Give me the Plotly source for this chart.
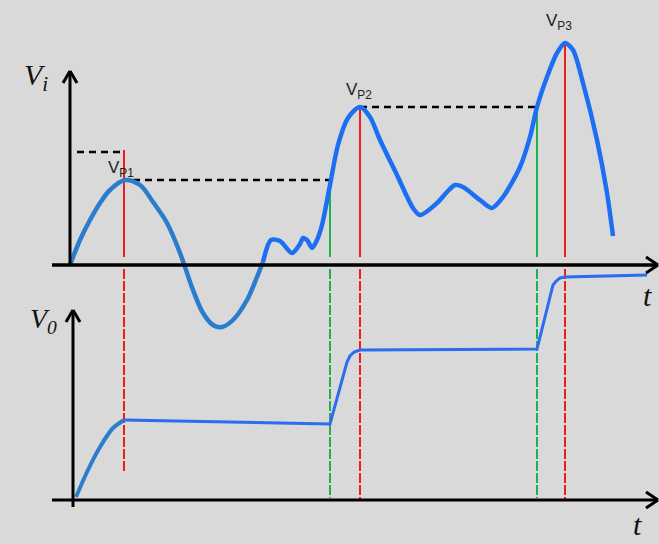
import plotly.graph_objects as go

# ---- data (t in time units, V in volts) ----
vi_t = [0.0, 1.0, 2.0, 3.0, 4.0, 5.5, 7.0, 8.3, 9.7, 11.0, 12.3, 13.3, 14.3, 15.2, 16.3, 17.7,
        18.7, 19.3, 20.1, 21.0, 22.2, 23.0, 23.3, 23.7, 24.2, 24.7, 25.2, 26.0, 26.8, 27.8, 29.0,
        30.0, 31.0, 32.7, 34.3, 35.0, 36.7, 37.7, 38.5, 39.3, 41.0, 42.2, 43.3, 45.0, 46.0, 46.7,
        47.7, 48.7, 49.5, 50.3, 51.3, 52.7, 53.7, 54.3]
vi_v = [0.0, 0.625, 1.125, 1.55, 1.875, 2.125, 2.0, 1.575, 1.05, 0.3, -0.625, -1.2, -1.5, -1.55,
        -1.375, -0.875, -0.3, 0.075, 0.625, 0.6, 0.3, 0.525, 0.675, 0.625, 0.425, 0.625, 1.0,
        2.0, 3.0, 3.675, 3.95, 3.7, 3.125, 2.25, 1.425, 1.25, 1.55, 1.825, 2.0, 1.95, 1.625,
        1.425, 1.7, 2.45, 3.2, 3.95, 4.7, 5.3, 5.55, 5.375, 4.55, 3.125, 1.8, 0.725]
vi_split = 17  # index where the trace colour changes

vo_t = [0.6, 1.7, 3.0, 4.3, 5.4, 26.0, 27.7, 28.0, 28.4, 29.0, 46.7, 48.3, 48.6, 49.0, 49.5, 57.7]
vo_v = [0.075, 0.7, 1.325, 1.8, 2.0, 1.9, 3.45, 3.6, 3.7, 3.75, 3.775, 5.375, 5.47, 5.55, 5.575, 5.625]
vo_split = 4

peak_names = ["V<sub>P1</sub>", "V<sub>P2</sub>", "V<sub>P3</sub>"]
peak_t = [5.4, 29.0, 49.5]
peak_top = [2.875, 3.95, 5.55]      # top of red marker (Vi units)
peak_end_vo = [0.675, 0.0, 0.0]     # lower end of red marker (Vo units)
charge_t = [26.0, 46.7]
charge_top = [1.9, 3.8]

hold_t0 = [0.7, 6.3, 29.0]
hold_t1 = [5.3, 26.0, 46.5]
hold_v = [2.825, 2.125, 3.95]

# axis ranges
XR = [-7.0, 58.9]
YR_VI = [-6.975, 6.625]
YR_VO = [-1.1, 12.5]


def vi_to_vo(v):
    return v - YR_VI[0] + YR_VO[0]


fig = go.Figure()

RED = "#f41a1a"
GREEN = "#1fb24a"

# hold (dashed black) lines
for a, b, v in zip(hold_t0, hold_t1, hold_v):
    fig.add_trace(go.Scatter(x=[a, b], y=[v, v], mode="lines",
                             line=dict(color="black", width=2.5, dash="7px,5px"),
                             hoverinfo="skip", showlegend=False))

# red peak markers: solid in the upper panel, dashed below
for t, top, end in zip(peak_t, peak_top, peak_end_vo):
    fig.add_trace(go.Scatter(x=[t, t], y=[top, 0.2], mode="lines",
                             line=dict(color=RED, width=2), hoverinfo="skip", showlegend=False))
    fig.add_trace(go.Scatter(x=[t, t], y=[vi_to_vo(-0.1), end], yaxis="y2", mode="lines",
                             line=dict(color=RED, width=2, dash="10px,2px"),
                             hoverinfo="skip", showlegend=False))
# green charge-start markers
for t, top in zip(charge_t, charge_top):
    fig.add_trace(go.Scatter(x=[t, t], y=[top, 0.2], mode="lines",
                             line=dict(color=GREEN, width=2), hoverinfo="skip", showlegend=False))
    fig.add_trace(go.Scatter(x=[t, t], y=[vi_to_vo(-0.1), 0.05], yaxis="y2", mode="lines",
                             line=dict(color=GREEN, width=2, dash="10px,2px"),
                             hoverinfo="skip", showlegend=False))

# input signal Vi
fig.add_trace(go.Scatter(x=vi_t[:vi_split + 1], y=vi_v[:vi_split + 1], mode="lines",
                         line=dict(color="#2a7ccc", width=4.5, shape="spline", smoothing=1.0),
                         hoverinfo="skip", showlegend=False))
fig.add_trace(go.Scatter(x=vi_t[vi_split:], y=vi_v[vi_split:], mode="lines",
                         line=dict(color="#1c6ff2", width=4.5, shape="spline", smoothing=0.8),
                         hoverinfo="skip", showlegend=False))
# output Vo
fig.add_trace(go.Scatter(x=vo_t[:vo_split + 1], y=vo_v[:vo_split + 1], yaxis="y2", mode="lines",
                         line=dict(color="#2a7ccc", width=4, shape="spline", smoothing=0.6),
                         hoverinfo="skip", showlegend=False))
fig.add_trace(go.Scatter(x=vo_t[vo_split:], y=vo_v[vo_split:], yaxis="y2", mode="lines",
                         line=dict(color="#2c6cf0", width=3),
                         hoverinfo="skip", showlegend=False))

# axes lines with open arrowheads (shapes)
shapes = []
def seg(x0, y0, x1, y1, w, yref="y"):
    shapes.append(dict(type="line", xref="x", yref=yref, x0=x0, y0=y0, x1=x1, y1=y1,
                       line=dict(color="black", width=w)))

# top panel
seg(-1.8, 0, 58.7, 0, 3.5)
seg(0, 0, 0, 4.85, 3)
seg(58.8, 0, 57.6, 0.2, 3); seg(58.8, 0, 57.6, -0.2, 3)
seg(0, 4.85, -0.7, 4.55, 3); seg(0, 4.85, 0.7, 4.55, 3)
# bottom panel
seg(-1.8, 0, 58.7, 0, 3, "y2")
seg(0.3, -0.175, 0.3, 4.75, 3, "y2")
seg(58.8, 0, 57.6, 0.2, 3, "y2"); seg(58.8, 0, 57.6, -0.2, 3, "y2")
seg(0.3, 4.75, -0.4, 4.45, 3, "y2"); seg(0.3, 4.75, 1.0, 4.45, 3, "y2")

annotations = []
# peak labels
peak_lbl_t = [5.1, 28.9, 48.9]
peak_lbl_v = [2.4, 4.35, 6.07]
for name, t, v in zip(peak_names, peak_lbl_t, peak_lbl_v):
    annotations.append(dict(x=t, y=v, xref="x", yref="y", text=name, showarrow=False,
                            font=dict(family="Liberation Sans, Arial", size=17, color="#222222")))
# axis labels
SERIF = "Liberation Serif, Times New Roman, serif"
annotations.append(dict(x=-3.4, y=4.7, xref="x", yref="y", text="<i>V</i><sub><i>i</i></sub>",
                        showarrow=False, font=dict(family=SERIF, size=30, color="#111")))
annotations.append(dict(x=-2.7, y=4.5, xref="x", yref="y2", text="<i>V</i><sub><i>0</i></sub>",
                        showarrow=False, font=dict(family=SERIF, size=28, color="#111")))
annotations.append(dict(x=57.7, y=-0.75, xref="x", yref="y", text="<i>t</i>",
                        showarrow=False, font=dict(family=SERIF, size=30, color="#111")))
annotations.append(dict(x=56.7, y=-0.62, xref="x", yref="y2", text="<i>t</i>",
                        showarrow=False, font=dict(family=SERIF, size=30, color="#111")))

fig.update_layout(
    width=659, height=544,
    margin=dict(l=0, r=0, t=0, b=0),
    paper_bgcolor="#d9d9d9", plot_bgcolor="#d9d9d9",
    xaxis=dict(range=XR, visible=False, fixedrange=True),
    yaxis=dict(range=YR_VI, visible=False, fixedrange=True),
    yaxis2=dict(range=YR_VO, visible=False, overlaying="y", fixedrange=True),
    shapes=shapes, annotations=annotations,
    showlegend=False,
)

fig.write_html(
    "out.html",
    config={"displayModeBar": False},
    post_script="document.body.style.margin='0';document.body.style.background='#d9d9d9';"
                "document.body.style.overflow='hidden';",
)
